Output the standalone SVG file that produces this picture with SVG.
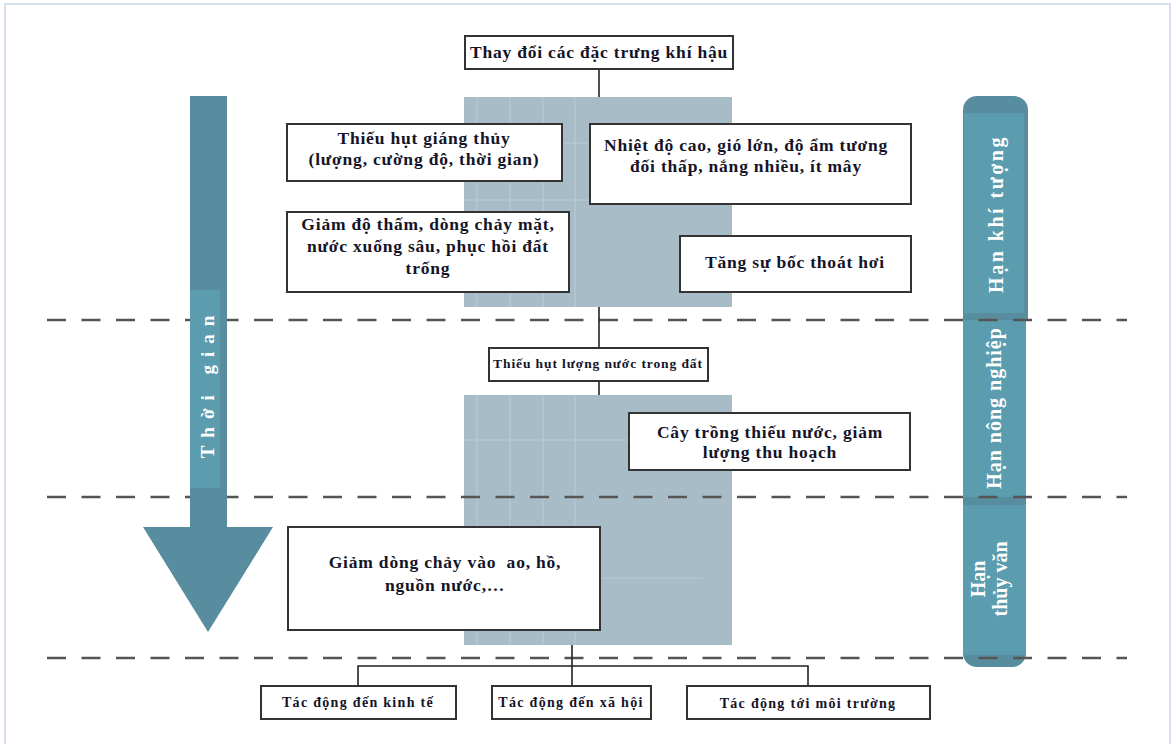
<svg xmlns="http://www.w3.org/2000/svg" width="1171" height="744" viewBox="0 0 1171 744">
<style>
.box{fill:#fff;stroke:#333;stroke-width:2}
.t{font-family:"Liberation Serif","Times New Roman",serif;font-weight:bold;fill:#141428;text-anchor:middle}
.f16{font-size:17.5px;letter-spacing:0.8px}
.f13{font-size:14px;letter-spacing:1.3px}
.f12{font-size:13.5px;letter-spacing:0.9px}
.w{font-family:"Liberation Serif","Times New Roman",serif;font-weight:bold;fill:#fff;text-anchor:middle;font-size:20px}
.shade{fill:#a8bcc8}
.grid{stroke:#fff;stroke-opacity:0.22;stroke-width:1}
.dash{stroke:#555;stroke-width:2.5;stroke-dasharray:19 15.5;fill:none}
.conn{stroke:#222;stroke-width:1.6;fill:none}
.dk{fill:#578d9e}
.lt{fill:#5b9cae}
</style>
<rect x="0" y="0" width="1171" height="744" fill="#fff"/>
<rect x="5" y="4" width="1165" height="760" fill="none" stroke="#c9d5ea" stroke-width="1.5"/>

<g id="shade-areas">
<rect class="shade" x="464" y="97" width="268" height="210"/>
<rect class="shade" x="464" y="395" width="268" height="250"/>
<g class="grid">
<line x1="477" y1="97" x2="477" y2="307"/><line x1="510" y1="97" x2="510" y2="307"/><line x1="543" y1="97" x2="543" y2="307"/><line x1="575" y1="97" x2="575" y2="307"/>
<line x1="464" y1="143" x2="732" y2="143"/><line x1="464" y1="200" x2="732" y2="200"/>
<line x1="477" y1="395" x2="477" y2="645"/><line x1="510" y1="395" x2="510" y2="645"/><line x1="543" y1="395" x2="543" y2="645"/><line x1="575" y1="395" x2="575" y2="645"/>
<line x1="464" y1="440" x2="732" y2="440"/><line x1="464" y1="578" x2="703" y2="578"/>
</g>
</g>

<g id="drought-bar">
<path class="dk" d="M963,110 A14,14 0 0 1 977,96 L1014,96 A14,14 0 0 1 1028,110 L1028,320 L963,320 Z"/>
<rect class="lt" x="964" y="113" width="60" height="200"/>
<rect class="lt" x="963" y="320" width="63" height="177"/>
<path class="dk" d="M963,497 L1026,497 L1026,653 A14,14 0 0 1 1012,667 L977,667 A14,14 0 0 1 963,653 Z"/>
<rect class="lt" x="963" y="505" width="63" height="150"/>
<text class="w" style="letter-spacing:2.5px" transform="translate(1003,214) rotate(-90)">Hạn khí tượng</text>
<text class="w" style="letter-spacing:1px" transform="translate(1001,408) rotate(-90)">Hạn nông nghiệp</text>
<text class="w" transform="translate(985,579) rotate(-90)">Hạn</text>
<text class="w" transform="translate(1007,579) rotate(-90)">thủy văn</text>
</g>

<g id="dividers">
<line class="dash" x1="47" y1="320" x2="1127" y2="320"/>
<line class="dash" x1="47" y1="497" x2="1127" y2="497"/>
<line class="dash" x1="47" y1="658" x2="1127" y2="658"/>
</g>

<g id="time-arrow">
<rect class="dk" x="190" y="96" width="37" height="432"/>
<rect class="lt" x="190" y="290" width="30" height="198"/>
<polygon class="dk" points="143,527 273,527 208,632"/>
<text class="w" style="font-size:19px;letter-spacing:8px" transform="translate(214,383) rotate(-90)">Thời gian</text>
</g>

<g id="connectors">
<line class="conn" x1="599" y1="69" x2="599" y2="97"/>
<line class="conn" x1="599" y1="307" x2="599" y2="348"/>
<line class="conn" x1="599" y1="381" x2="599" y2="395"/>
<line class="conn" x1="572" y1="645" x2="572" y2="686"/>
<polyline class="conn" points="358,686 358,666 808,666 808,686"/>
</g>

<g id="n-climate">
<rect class="box" x="465" y="36" width="268" height="33"/>
<text class="t f16" x="599" y="58">Thay đổi các đặc trưng khí hậu</text>
</g>
<g id="n-precip">
<rect class="box" x="287" y="124" width="275" height="57"/>
<text class="t f16" x="424" y="144">Thiếu hụt giáng thủy</text>
<text class="t f16" x="424" y="165">(lượng, cường độ, thời gian)</text>
</g>
<g id="n-temp">
<rect class="box" x="590" y="124" width="321" height="80"/>
<text class="t f16" x="746" y="151">Nhiệt độ cao, gió lớn, độ ẩm tương</text>
<text class="t f16" x="746" y="172">đối thấp, nắng nhiều, ít mây</text>
</g>
<g id="n-infil">
<rect class="box" x="287" y="212" width="282" height="80"/>
<text class="t f16" x="428" y="230">Giảm độ thấm, dòng chảy mặt,</text>
<text class="t f16" x="428" y="252">nước xuống sâu, phục hồi đất</text>
<text class="t f16" x="428" y="274">trống</text>
</g>
<g id="n-evap">
<rect class="box" x="680" y="236" width="231" height="56"/>
<text class="t f16" x="795" y="268">Tăng sự bốc thoát hơi</text>
</g>
<g id="n-soil">
<rect class="box" x="489" y="348" width="219" height="33"/>
<text class="t f12" x="598" y="368">Thiếu hụt lượng nước trong đất</text>
</g>
<g id="n-crop">
<rect class="box" x="629" y="413" width="281" height="57"/>
<text class="t f16" x="770" y="438">Cây trồng thiếu nước, giảm</text>
<text class="t f16" x="770" y="458">lượng thu hoạch</text>
</g>
<g id="n-runoff">
<rect class="box" x="288" y="527" width="312" height="103"/>
<text class="t f16" x="445" y="568" xml:space="preserve">Giảm dòng chảy vào  ao, hồ,</text>
<text class="t f16" x="445" y="591">nguồn nước,…</text>
</g>
<g id="n-econ">
<rect class="box" x="261" y="686" width="195" height="33"/>
<text class="t f13" x="358" y="707">Tác động đến kinh tế</text>
</g>
<g id="n-social">
<rect class="box" x="492" y="686" width="159" height="33"/>
<text class="t f13" x="571" y="707">Tác động đến xã hội</text>
</g>
<g id="n-env">
<rect class="box" x="687" y="686" width="243" height="33"/>
<text class="t f13" x="808" y="708">Tác động tới môi trường</text>
</g>
</svg>
